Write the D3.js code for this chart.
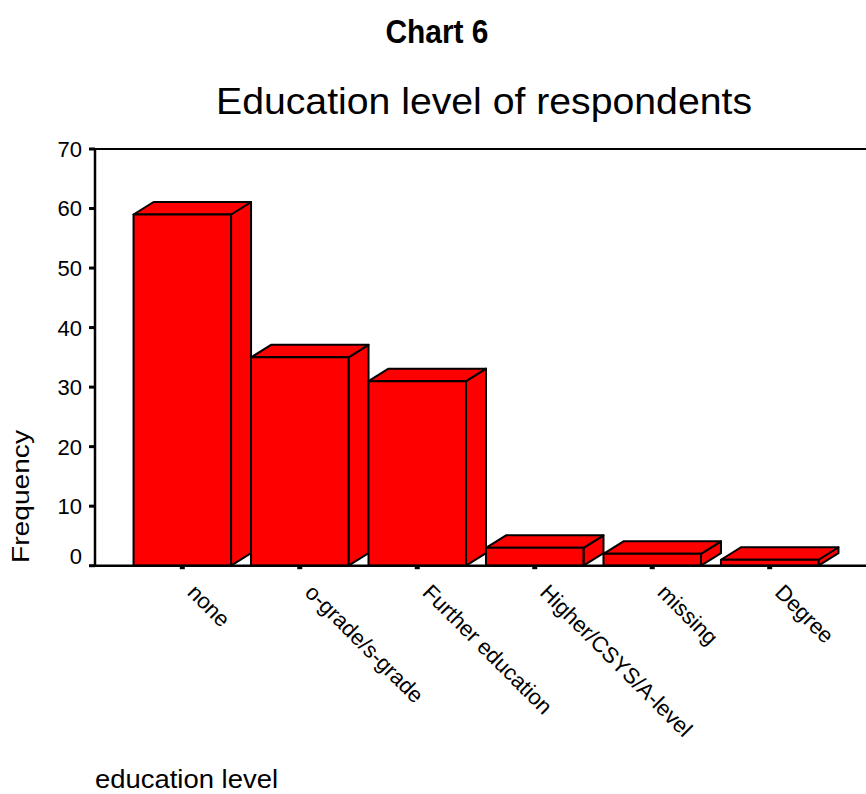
<!DOCTYPE html>
<html>
<head>
<meta charset="utf-8">
<script src="https://cdn.jsdelivr.net/npm/d3@7/dist/d3.min.js"></script>
<style>
  html, body { margin: 0; padding: 0; background: #fff; }
  svg { display: block; }
  text { font-family: "Liberation Sans", Arial, sans-serif; fill: #000; }
</style>
</head>
<body>
<svg id="chart" width="866" height="794"></svg>
<script>
// ---- data ----
const categories = ["none", "o-grade/s-grade", "Further education", "Higher/CSYS/A-level", "missing", "Degree"];
const frequencies = [59, 35, 31, 3, 2, 1];
const yTickValues = [0, 10, 20, 30, 40, 50, 60, 70];
const chartLabel = "Chart 6";
const chartTitle = "Education level of respondents";
const yAxisTitle = "Frequency";
const xAxisTitle = "education level";

// ---- layout ----
const plotLeft = 95, plotTop = 149, plotBottom = 565.7, plotRight = 866;
const depthX = 20, depthY = 12.5;

const svg = d3.select("#chart");

const x = d3.scaleBand()
  .domain(categories)
  .range([plotLeft, 857])
  .paddingInner(0.17)
  .paddingOuter(0.328);

const y = d3.scaleLinear().domain([0, 70]).range([plotBottom, plotTop]);

// titles
svg.append("text")
  .attr("x", 437).attr("y", 43)
  .attr("text-anchor", "middle")
  .attr("font-size", 33).attr("font-weight", "bold")
  .attr("textLength", 103).attr("lengthAdjust", "spacingAndGlyphs")
  .text(chartLabel);

svg.append("text")
  .attr("x", 216).attr("y", 114)
  .attr("font-size", 37)
  .attr("textLength", 536).attr("lengthAdjust", "spacingAndGlyphs")
  .text(chartTitle);

// frame line
svg.append("line").attr("x1", plotLeft).attr("x2", plotRight).attr("y1", plotTop).attr("y2", plotTop)
  .attr("stroke", "#000").attr("stroke-width", 2);

// bars
const data = categories.map((c, i) => ({ c, v: frequencies[i] }));
const bw = x.bandwidth();
const gBars = svg.append("g");
data.forEach(d => {
  const x0 = x(d.c), x1 = x0 + bw, yv = y(d.v), y0 = y(0);
  const g = gBars.append("g")
    .attr("fill", "#ff0000").attr("stroke", "#000")
    .attr("stroke-width", 2).attr("stroke-linejoin", "round");
  g.append("polygon").attr("points", [
    [x1, yv], [x1 + depthX, yv - depthY], [x1 + depthX, y0 - depthY], [x1, y0]
  ].map(p => p.join(",")).join(" "));
  g.append("polygon").attr("points", [
    [x0, yv], [x0 + depthX, yv - depthY], [x1 + depthX, yv - depthY], [x1, yv]
  ].map(p => p.join(",")).join(" "));
  g.append("rect").attr("x", x0).attr("y", yv).attr("width", bw).attr("height", y0 - yv);
});

// axis lines
svg.append("line").attr("x1", plotLeft).attr("x2", plotRight).attr("y1", plotBottom).attr("y2", plotBottom)
  .attr("stroke", "#000").attr("stroke-width", 2.5);
svg.append("line").attr("x1", plotLeft).attr("x2", plotLeft).attr("y1", plotTop - 1).attr("y2", plotBottom + 1.2)
  .attr("stroke", "#000").attr("stroke-width", 2.5);

// y ticks
const yAxis = svg.append("g");
yTickValues.forEach(t => {
  yAxis.append("rect").attr("x", plotLeft - 6).attr("y", y(t) - 1.5).attr("width", 6).attr("height", 3).attr("fill", "#000");
  yAxis.append("text")
    .attr("x", 82).attr("y", y(t) + (t === 0 ? -10 : 0))
    .attr("dy", "0.36em")
    .attr("text-anchor", "end")
    .attr("font-size", 22)
    .text(t);
});

// x ticks & labels
const xAxis = svg.append("g");
categories.forEach(c => {
  const cx = x(c) + bw / 2;
  xAxis.append("rect").attr("x", cx - 2.5).attr("y", plotBottom).attr("width", 5).attr("height", 3.5).attr("fill", "#000");
  xAxis.append("text")
    .attr("transform", `translate(${cx + 4},${plotBottom + 28}) rotate(45)`)
    .attr("font-size", 22)
    .text(c);
});

// axis titles
svg.append("text")
  .attr("transform", "translate(29,563) rotate(-90)")
  .attr("font-size", 24)
  .attr("textLength", 133).attr("lengthAdjust", "spacingAndGlyphs")
  .text(yAxisTitle);

svg.append("text")
  .attr("x", 95).attr("y", 788)
  .attr("font-size", 25)
  .attr("textLength", 183).attr("lengthAdjust", "spacingAndGlyphs")
  .text(xAxisTitle);
</script>
</body>
</html>
